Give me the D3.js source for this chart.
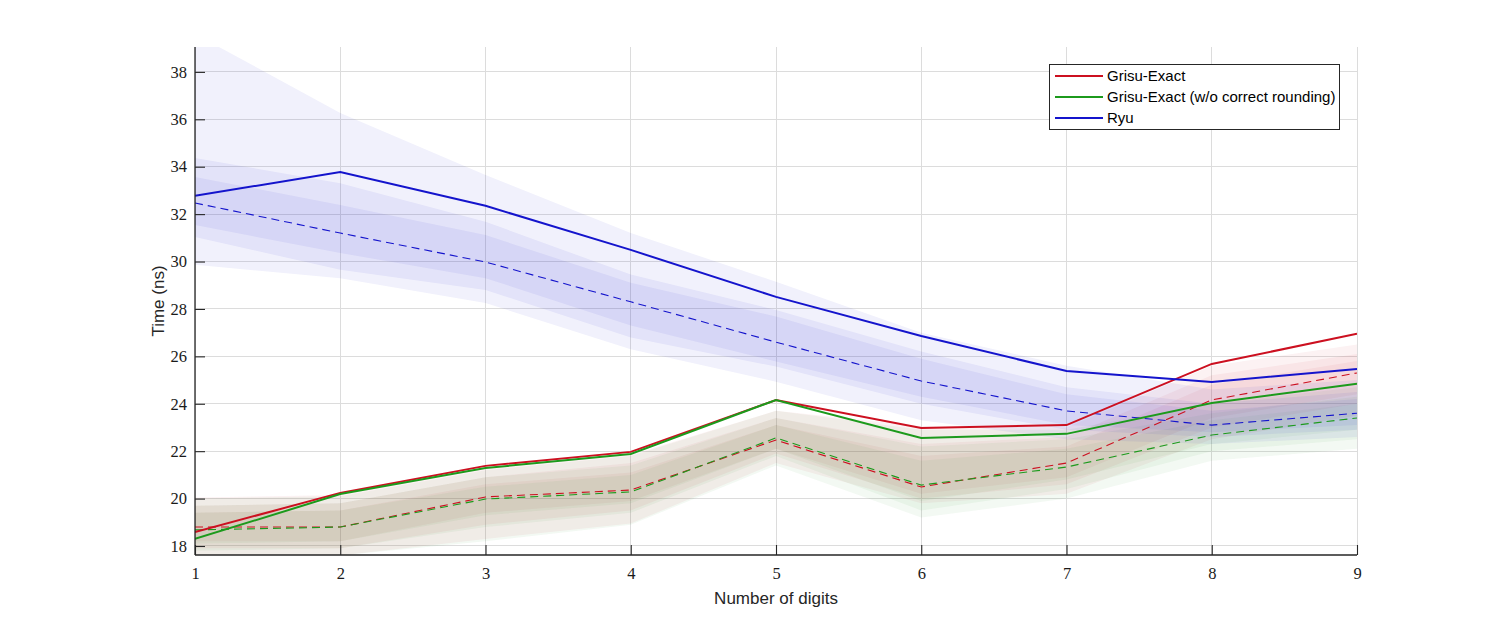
<!DOCTYPE html>
<html>
<head>
<meta charset="utf-8">
<script src="https://cdn.jsdelivr.net/npm/d3@7"></script>
<style>
  html, body { margin: 0; padding: 0; background: #fff; }
  svg { display: block; }
</style>
</head>
<body>
<svg id="chart" width="1500" height="625"></svg>
<script>
// ---------- data ----------
const digits = [1, 2, 3, 4, 5, 6, 7, 8, 9];
const yTicks = [18, 20, 22, 24, 26, 28, 30, 32, 34, 36, 38];
const seriesNames = ["Grisu-Exact", "Grisu-Exact (w/o correct rounding)", "Ryu"];
const seriesColors = ["#cc1020", "#1c9a1c", "#1414cc"];

// Grisu-Exact
const grisuMean   = [18.59, 20.24, 21.38, 21.97, 24.16, 22.98, 23.10, 25.68, 26.95];
const grisuMedian = [18.80, 18.80, 20.07, 20.36, 22.47, 20.49, 21.50, 24.16, 25.30];
const grisuOuterHi = [20.05, 20.15, 21.30, 21.85, 23.70, 23.05, 23.00, 25.60, 26.50];
const grisuOuterLo = [17.50, 17.60, 18.30, 18.95, 21.50, 19.80, 20.20, 22.50, 23.50];
const grisuMidHi   = [19.70, 19.80, 20.90, 21.50, 23.40, 22.30, 22.60, 25.20, 26.10];
const grisuMidLo   = [17.90, 17.90, 18.90, 19.50, 21.90, 20.00, 20.60, 23.00, 24.00];
const grisuInnerHi = [19.40, 19.50, 20.60, 21.10, 23.10, 21.80, 22.20, 24.80, 25.80];
const grisuInnerLo = [18.20, 18.20, 19.40, 19.90, 22.10, 20.20, 20.90, 23.40, 24.40];

// Grisu-Exact (w/o correct rounding)
const noRoundMean   = [18.30, 20.19, 21.29, 21.88, 24.16, 22.56, 22.73, 24.03, 24.84];
const noRoundMedian = [18.68, 18.80, 19.98, 20.28, 22.56, 20.57, 21.33, 22.68, 23.40];
const noRoundOuterHi = [20.00, 20.10, 21.20, 21.80, 23.70, 22.90, 22.90, 24.00, 24.70];
const noRoundOuterLo = [17.50, 17.60, 18.20, 18.90, 21.40, 19.20, 20.00, 21.60, 22.10];
const noRoundMidHi   = [19.70, 19.80, 20.90, 21.40, 23.40, 22.20, 22.50, 23.60, 24.30];
const noRoundMidLo   = [17.80, 17.90, 18.80, 19.40, 21.80, 19.50, 20.40, 22.00, 22.50];
const noRoundInnerHi = [19.40, 19.50, 20.50, 21.00, 23.10, 21.60, 22.10, 23.30, 24.00];
const noRoundInnerLo = [18.10, 18.20, 19.30, 19.80, 22.10, 19.90, 20.80, 22.30, 22.90];

// Ryu
const ryuMean   = [32.77, 33.78, 32.35, 30.49, 28.51, 26.86, 25.38, 24.92, 25.47];
const ryuMedian = [32.47, 31.20, 29.98, 28.30, 26.60, 24.96, 23.70, 23.10, 23.60];
const ryuOuterHi = [39.60, 36.27, 33.65, 31.20, 29.15, 27.00, 25.60, 24.60, 25.00];
const ryuOuterLo = [29.86, 29.30, 28.25, 26.30, 24.93, 23.30, 22.50, 22.30, 22.60];
const ryuMidHi   = [34.37, 33.30, 31.68, 29.45, 27.96, 26.20, 24.70, 24.00, 24.50];
const ryuMidLo   = [31.04, 29.65, 28.80, 26.80, 25.57, 24.00, 22.90, 22.60, 22.90];
const ryuInnerHi = [33.57, 32.39, 31.12, 29.10, 27.68, 25.90, 24.40, 23.70, 24.20];
const ryuInnerLo = [31.54, 30.36, 29.30, 27.30, 25.78, 24.30, 23.10, 22.80, 23.10];

// ---------- layout ----------
const series = [
  { mean: grisuMean, median: grisuMedian,
    bands: [[grisuOuterLo, grisuOuterHi], [grisuMidLo, grisuMidHi], [grisuInnerLo, grisuInnerHi]] },
  { mean: noRoundMean, median: noRoundMedian,
    bands: [[noRoundOuterLo, noRoundOuterHi], [noRoundMidLo, noRoundMidHi], [noRoundInnerLo, noRoundInnerHi]] },
  { mean: ryuMean, median: ryuMedian,
    bands: [[ryuOuterLo, ryuOuterHi], [ryuMidLo, ryuMidHi], [ryuInnerLo, ryuInnerHi]] }
];

const mLeft = 195, mRight = 1357, mTop = 47, mBottom = 555;
const svg = d3.select("#chart");
const x = d3.scaleLinear().domain([1, 9]).range([mLeft, mRight]);
const y = d3.scaleLinear().domain([17.62, 39.05]).range([mBottom, mTop]);

svg.append("defs").append("clipPath").attr("id", "plotclip")
  .append("rect").attr("x", mLeft).attr("y", mTop).attr("width", mRight - mLeft).attr("height", mBottom - mTop);

// grid
const grid = svg.append("g");
grid.selectAll("line.gx").data(digits).enter().append("line")
  .attr("x1", d => x(d)).attr("x2", d => x(d)).attr("y1", mTop).attr("y2", mBottom)
  .attr("stroke", "#dcdcdc").attr("stroke-width", 1).attr("shape-rendering", "crispEdges");
grid.selectAll("line.gy").data(yTicks).enter().append("line")
  .attr("x1", mLeft).attr("x2", mRight).attr("y1", d => y(d)).attr("y2", d => y(d))
  .attr("stroke", "#dcdcdc").attr("stroke-width", 1).attr("shape-rendering", "crispEdges");

const plot = svg.append("g").attr("clip-path", "url(#plotclip)");

// bands
series.forEach((s, si) => {
  s.bands.forEach(([lo, hi]) => {
    const area = d3.area().x((d, i) => x(digits[i])).y0((d, i) => y(lo[i])).y1((d, i) => y(hi[i]));
    plot.append("path").datum(digits).attr("d", area)
      .attr("fill", seriesColors[si]).attr("fill-opacity", si === 2 ? 0.06 : 0.055)
      .attr("stroke", "none");
  });
});

// lines
series.forEach((s, si) => {
  const line = d3.line().x((d, i) => x(digits[i])).y(d => y(d));
  plot.append("path").datum(s.median).attr("d", line)
    .attr("fill", "none").attr("stroke", seriesColors[si]).attr("stroke-width", 1.1)
    .attr("stroke-dasharray", "8,5");
});
series.forEach((s, si) => {
  const line = d3.line().x((d, i) => x(digits[i])).y(d => y(d));
  plot.append("path").datum(s.mean).attr("d", line)
    .attr("fill", "none").attr("stroke", seriesColors[si]).attr("stroke-width", 2)
    .attr("stroke-linejoin", "miter");
});

// axes
const axisColor = "#262626";
const yAxis = d3.axisLeft(y).tickValues(yTicks).tickSizeInner(-10).tickSizeOuter(0).tickPadding(8)
  .tickFormat(d3.format("d"));
const gy = svg.append("g").attr("transform", `translate(${mLeft},0)`).call(yAxis);
const xAxis = d3.axisBottom(x).tickValues(digits).tickSizeInner(-10).tickSizeOuter(0).tickPadding(12)
  .tickFormat(d3.format("d"));
const gx = svg.append("g").attr("transform", `translate(0,${mBottom})`).call(xAxis);
[gx, gy].forEach(g => {
  g.select(".domain").attr("stroke", axisColor).attr("stroke-width", 1.3);
  g.selectAll(".tick line").attr("stroke", axisColor).attr("stroke-width", 1.1);
  g.selectAll(".tick text").attr("fill", "#1a1a1a")
    .style("font-family", "'Liberation Serif', 'Times New Roman', serif").style("font-size", "16.5px");
});
gy.select(".domain").attr("d", `M0,${mTop}V${mBottom}`);
gx.select(".domain").attr("d", `M${mLeft},0H${mRight}`);

// axis labels
svg.append("text").attr("x", (mLeft + mRight) / 2).attr("y", 604).attr("text-anchor", "middle")
  .style("font-family", "'Liberation Sans', Arial, sans-serif").style("font-size", "17px").attr("fill", "#262626")
  .text("Number of digits");
svg.append("text").attr("transform", `translate(164,${(mTop + mBottom) / 2}) rotate(-90)`).attr("text-anchor", "middle")
  .style("font-family", "'Liberation Sans', Arial, sans-serif").style("font-size", "17px").attr("fill", "#262626")
  .text("Time (ns)");

// legend
const lg = svg.append("g");
lg.append("rect").attr("x", 1049.5).attr("y", 64.5).attr("width", 290).attr("height", 65)
  .attr("fill", "#fff").attr("stroke", "#262626").attr("stroke-width", 1);
seriesNames.forEach((name, i) => {
  const yy = 76 + i * 21;
  lg.append("line").attr("x1", 1055).attr("x2", 1103).attr("y1", yy).attr("y2", yy)
    .attr("stroke", seriesColors[i]).attr("stroke-width", 2);
  lg.append("text").attr("x", 1107).attr("y", yy + 5)
    .style("font-family", "'Liberation Sans', Arial, sans-serif").style("font-size", "15px").attr("fill", "#000")
    .text(name);
});
</script>
</body>
</html>
